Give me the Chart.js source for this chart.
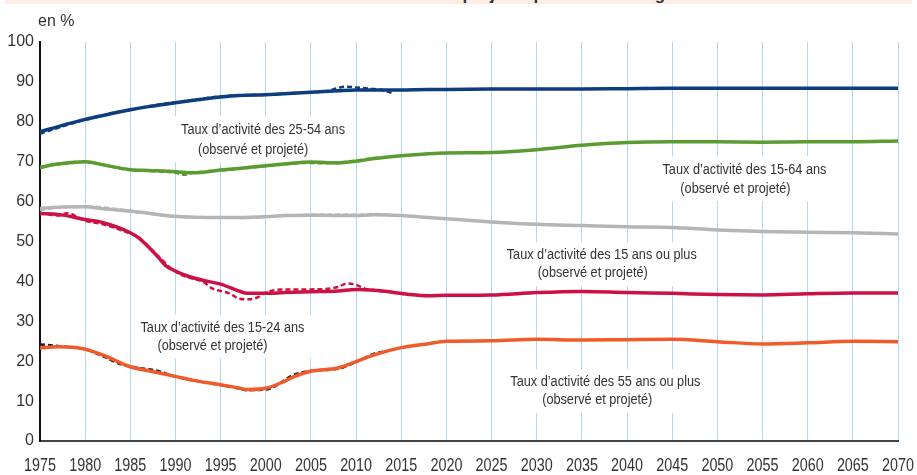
<!DOCTYPE html>
<html>
<head>
<meta charset="utf-8">
<script src="https://cdn.jsdelivr.net/npm/chart.js@4.4.1/dist/chart.umd.min.js"></script>
<style>
  body { margin: 0; background: #fff; }
  #wrap { position: relative; width: 917px; height: 475px; }
  #band { position: absolute; top: 0; left: 5px; width: 907px; height: 4px; background: #fdede2; overflow: hidden; }
  #band span { position: absolute; left: 0; width: 100%; top: -15px; text-align: center; font: bold 17px "Liberation Sans", Arial, sans-serif; color: #333; }
</style>
</head>
<body>
<div id="wrap">
  <canvas id="chart" width="917" height="475"></canvas>
  <div id="band"><span>Taux d'activité observés et projetés par tranche d'âge</span></div>
</div>
<script>
// years and values (en %)
const projYears = [1975, 1977, 1980, 1982, 1985, 1987, 1990, 1992, 1995, 1997, 2000, 2002, 2005, 2008, 2010, 2012, 2015, 2018, 2020, 2025, 2030, 2035, 2040, 2045, 2050, 2055, 2060, 2065, 2070];
const proj25_54 = [77.5, 78.8, 80.6, 81.6, 83.0, 83.8, 84.8, 85.4, 86.2, 86.6, 86.8, 87.0, 87.4, 87.8, 88.0, 88.0, 88.0, 88.1, 88.1, 88.2, 88.2, 88.2, 88.3, 88.4, 88.4, 88.4, 88.4, 88.4, 88.4];
const proj15_64 = [68.6, 69.4, 70.0, 69.2, 68.0, 67.8, 67.5, 67.2, 67.9, 68.3, 69.0, 69.4, 69.9, 69.7, 70.1, 70.8, 71.5, 72.0, 72.2, 72.3, 73.0, 74.1, 74.8, 75.0, 75.0, 74.9, 75.0, 75.0, 75.2];
const proj15plus = [58.3, 58.6, 58.7, 58.2, 57.6, 57.1, 56.3, 56.1, 56.0, 56.0, 56.2, 56.5, 56.6, 56.5, 56.5, 56.7, 56.5, 56.0, 55.7, 54.9, 54.3, 54.0, 53.7, 53.5, 52.9, 52.5, 52.3, 52.2, 51.9];

const projYears15_24 = [1975, 1977, 1980, 1982, 1985, 1986, 1988, 1989, 1990, 1991, 1993, 1995, 1997, 1998, 2000, 2002, 2005, 2008, 2010, 2012, 2014, 2016, 2018, 2020, 2025, 2030, 2035, 2040, 2045, 2050, 2055, 2060, 2065, 2070];
const proj15_24 = [57.0, 56.8, 55.5, 54.7, 52.2, 50.8, 46.3, 43.8, 42.6, 41.6, 40.3, 39.3, 37.6, 37.0, 37.0, 37.2, 37.4, 37.6, 38.0, 37.8, 37.3, 36.7, 36.4, 36.5, 36.6, 37.2, 37.5, 37.2, 37.0, 36.7, 36.6, 36.9, 37.1, 37.1];

const projYears55plus = [1975, 1977, 1980, 1982, 1985, 1987, 1990, 1992, 1995, 1997, 1998, 2000, 2002, 2003, 2005, 2008, 2010, 2012, 2015, 2018, 2020, 2025, 2030, 2035, 2040, 2045, 2050, 2055, 2060, 2065, 2070];
const proj55plus = [23.3, 23.6, 23.0, 21.5, 18.6, 17.6, 16.2, 15.2, 14.1, 13.3, 12.9, 13.2, 14.9, 16.0, 17.5, 18.3, 19.9, 21.6, 23.4, 24.4, 25.0, 25.1, 25.5, 25.3, 25.4, 25.5, 24.9, 24.3, 24.6, 25.0, 24.9];

// observed series (dashed)
const obsYears25_54 = [1975, 1977, 1979, 1981, 1983, 1985, 1987, 1989, 1991, 1993, 1995, 1997, 1999, 2001, 2003, 2005, 2007, 2008, 2009, 2010, 2011, 2012, 2013, 2014];
const obs25_54 = [77.0, 78.5, 79.9, 81.0, 82.2, 83.0, 83.9, 84.6, 85.2, 85.8, 86.4, 86.6, 86.7, 86.9, 87.2, 87.4, 87.8, 88.5, 88.8, 88.6, 88.4, 88.2, 87.9, 87.2];
const obsYears15_64 = [1975, 1976, 1978, 1980, 1982, 1984, 1986, 1988, 1990, 1991, 1992, 1994, 1996, 1998, 2000, 2002, 2004, 2006, 2008, 2010, 2012, 2014];
const obs15_64 = [68.3, 69.2, 69.5, 70.0, 69.3, 68.2, 67.8, 67.6, 67.2, 66.7, 67.2, 67.7, 68.0, 68.4, 68.9, 69.3, 69.7, 69.6, 69.8, 70.3, 70.9, 71.3];
const obsYears15plus = [1975, 1977, 1980, 1985, 1990, 1995, 1998, 2000, 2003, 2005, 2008, 2010, 2012, 2014];
const obs15plus = [57.9, 58.5, 58.8, 57.7, 56.2, 56.0, 55.9, 56.2, 56.5, 56.7, 56.7, 56.7, 56.9, 56.5];
const obsYears15_24 = [1975, 1977, 1978, 1980, 1982, 1984, 1986, 1988, 1990, 1992, 1993, 1994, 1995, 1996, 1997, 1998, 1999, 2000, 2002, 2005, 2008, 2009, 2010, 2011, 2012, 2013];
const obs15_24 = [57.2, 56.5, 57.1, 55.2, 54.3, 52.8, 50.8, 46.5, 42.4, 40.6, 40.0, 38.3, 37.6, 37.0, 35.7, 35.5, 35.9, 37.2, 38.0, 38.0, 38.6, 39.5, 39.1, 38.2, 37.8, 37.4];
const obsYears55plus = [1975, 1977, 1980, 1982, 1984, 1986, 1988, 1990, 1992, 1995, 1997, 1998, 1999, 2000, 2001, 2003, 2005, 2008, 2010, 2012, 2013];
const obs55plus = [24.2, 23.8, 23.0, 21.2, 19.2, 18.3, 17.6, 16.1, 15.2, 14.0, 13.2, 12.7, 12.8, 12.9, 13.7, 16.5, 17.6, 18.1, 19.8, 21.9, 22.4];

// text boxes: [year, value] of each line centre
const notes = [
    { lines: ['Taux d’activité des 25-54 ans', '(observé et projeté)'], at: [[1999.7, 78.1], [1998.6, 73.1]] },
    { lines: ['Taux d’activité des 15-64 ans', '(observé et projeté)'], at: [[2053.0, 68.1], [2052.0, 63.3]] },
    { lines: ['Taux d’activité des 15 ans ou plus', '(observé et projeté)'], at: [[2037.2, 46.6], [2036.2, 42.1]] },
    { lines: ['Taux d’activité des 55 ans ou plus', '(observé et projeté)'], at: [[2037.6, 14.8], [2036.7, 10.3]] },
    { lines: ['Taux d’activité des 15-24 ans', '(observé et projeté)'], at: [[1995.2, 28.5], [1994.1, 24.0]] }
];

const NARROW = 0.82; // no narrow font installed, squeeze the regular one

function pts(xs, ys) {
    return xs.map((x, i) => ({ x: x, y: ys[i] }));
}

function solid(data, color) {
    return { data: data, borderColor: color, borderWidth: 3.5, pointRadius: 0, cubicInterpolationMode: 'monotone', order: 1 };
}
function dashed(data, color) {
    return { data: data, borderColor: color, borderWidth: 2.5, borderDash: [5, 3], pointRadius: 0, cubicInterpolationMode: 'monotone', order: 2 };
}

function narrowText(ctx, s, x, y) {
    ctx.save();
    ctx.translate(x, y);
    ctx.scale(NARROW, 1);
    ctx.fillText(s, 0, 0);
    ctx.restore();
}

const navy = '#0d3d7e', green = '#5a9b32', grey = '#b5b5b8', crimson = '#cc1245', orange = '#f15a2b';

const notesPlugin = {
    id: 'notes',
    beforeDatasetsDraw(chart) {
        const ctx = chart.ctx;
        const xs = chart.scales.x, ys = chart.scales.y;
        ctx.save();
        ctx.font = '15.5px "Liberation Sans", sans-serif';
        ctx.textAlign = 'center';
        ctx.textBaseline = 'middle';
        notes.forEach(n => {
            let l = 1e9, r = -1e9, t = 1e9, b = -1e9;
            n.lines.forEach((s, i) => {
                const cx = xs.getPixelForValue(n.at[i][0]);
                const cy = ys.getPixelForValue(n.at[i][1]);
                const w = ctx.measureText(s).width * NARROW;
                l = Math.min(l, cx - w / 2); r = Math.max(r, cx + w / 2);
                t = Math.min(t, cy - 9); b = Math.max(b, cy + 9);
            });
            ctx.fillStyle = '#fff';
            ctx.fillRect(l - 7, t - 4, r - l + 14, b - t + 8);
            ctx.fillStyle = '#333';
            n.lines.forEach((s, i) => {
                narrowText(ctx, s, xs.getPixelForValue(n.at[i][0]), ys.getPixelForValue(n.at[i][1]));
            });
        });
        // x tick labels, condensed like the original
        ctx.font = '17.5px "Liberation Sans", sans-serif';
        xs.ticks.forEach(t => {
            narrowText(ctx, String(t.value), xs.getPixelForValue(t.value), 466);
        });
        // unit label
        ctx.font = '16px "Liberation Sans", sans-serif';
        ctx.textAlign = 'left';
        ctx.fillText('en %', 38, 22);
        ctx.restore();
    }
};

const config = {
    type: 'line',
    data: {
        datasets: [
            solid(pts(projYears, proj25_54), navy),
            solid(pts(projYears, proj15_64), green),
            solid(pts(projYears, proj15plus), grey),
            solid(pts(projYears15_24, proj15_24), crimson),
            solid(pts(projYears55plus, proj55plus), orange),
            dashed(pts(obsYears25_54, obs25_54), navy),
            dashed(pts(obsYears15_64, obs15_64), green),
            dashed(pts(obsYears15plus, obs15plus), grey),
            dashed(pts(obsYears15_24, obs15_24), crimson),
            dashed(pts(obsYears55plus, obs55plus), '#222')
        ]
    },
    options: {
        responsive: false,
        animation: false,
        layout: { padding: { top: 42, right: 19, left: 0, bottom: 0 } },
        plugins: { legend: { display: false }, tooltip: { enabled: false } },
        scales: {
            x: {
                type: 'linear', min: 1975, max: 2070,
                grid: { color: '#b0d8f2', lineWidth: 1, drawTicks: false },
                border: { display: true, color: '#444', width: 2 },
                ticks: { stepSize: 5, autoSkip: false, display: false },
                afterFit: s => { s.height = 34; }
            },
            y: {
                min: 0, max: 100,
                grid: { display: false, drawTicks: false },
                border: { display: true, color: '#111', width: 2 },
                ticks: {
                    stepSize: 10, padding: 6, color: '#333',
                    font: { family: '"Liberation Sans", sans-serif', size: 16 }
                },
                afterFit: s => { s.width = 40; }
            }
        }
    },
    plugins: [notesPlugin]
};

new Chart(document.getElementById('chart').getContext('2d'), config);
</script>
</body>
</html>
